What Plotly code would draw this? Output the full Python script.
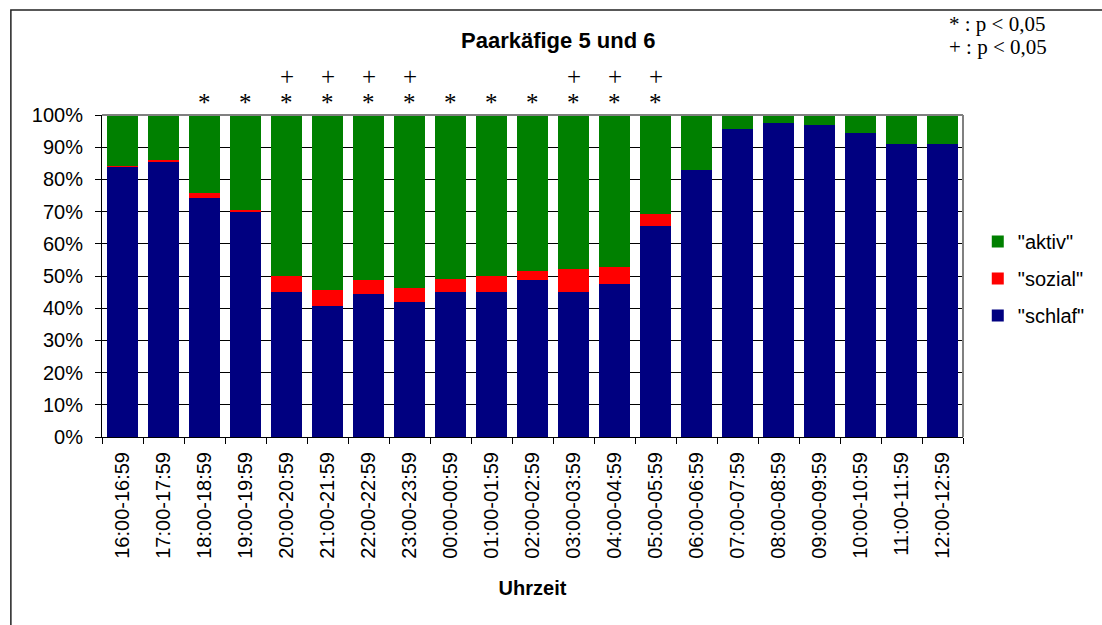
import plotly.graph_objects as go

categories = ["16:00-16:59", "17:00-17:59", "18:00-18:59", "19:00-19:59", "20:00-20:59",
              "21:00-21:59", "22:00-22:59", "23:00-23:59", "00:00-00:59", "01:00-01:59",
              "02:00-02:59", "03:00-03:59", "04:00-04:59", "05:00-05:59", "06:00-06:59",
              "07:00-07:59", "08:00-08:59", "09:00-09:59", "10:00-10:59", "11:00-11:59",
              "12:00-12:59"]
schlaf = [83.9, 85.6, 74.3, 69.9, 45.0, 40.7, 44.4, 41.9, 45.0, 45.0, 48.8,
          45.0, 47.5, 65.5, 82.9, 95.6, 97.4, 96.8, 94.3, 91.0, 91.0]
sozial = [0.4, 0.4, 1.4, 0.6, 5.1, 5.1, 4.5, 4.5, 4.1, 5.1, 2.8,
          7.2, 5.3, 3.8, 0.0, 0.0, 0.0, 0.0, 0.0, 0.0, 0.0]
aktiv = [15.7, 14.0, 24.3, 29.5, 49.9, 54.2, 51.1, 53.6, 50.9, 49.9, 48.4,
         47.8, 47.2, 30.7, 17.1, 4.4, 2.6, 3.2, 5.7, 9.0, 9.0]
star_cats = ["18:00-18:59", "19:00-19:59", "20:00-20:59", "21:00-21:59", "22:00-22:59",
             "23:00-23:59", "00:00-00:59", "01:00-01:59", "02:00-02:59", "03:00-03:59",
             "04:00-04:59", "05:00-05:59"]
plus_cats = ["20:00-20:59", "21:00-21:59", "22:00-22:59", "23:00-23:59",
             "03:00-03:59", "04:00-04:59", "05:00-05:59"]

W, H = 1102, 625
L, R, T, B = 102, 976, 114.7, 437.3
pw, ph = R - L, B - T

def px(x):
    return (x - L) / pw

def py(y):
    return (B - y) / ph

SANS = "Liberation Sans, Arial, sans-serif"
SERIF = "Liberation Serif, Times New Roman, serif"

fig = go.Figure()
fig.add_trace(go.Bar(x=categories, y=schlaf, name='"schlaf"', marker_color="#000080",
                     marker_line_width=0, legendgroup="c", legendrank=3))
fig.add_trace(go.Bar(x=categories, y=sozial, name='"sozial"', marker_color="#FF0000",
                     marker_line_width=0, legendgroup="b", legendrank=2))
fig.add_trace(go.Bar(x=categories, y=aktiv, name='"aktiv"', marker_color="#008000",
                     marker_line_width=0, legendgroup="a", legendrank=1))

annotations = []
for c in star_cats:
    annotations.append(dict(x=c, y=py(102), xref="x", yref="paper", text="*", showarrow=False,
                            font=dict(family=SERIF, size=25, color="black"),
                            xanchor="center", yanchor="middle"))
for c in plus_cats:
    annotations.append(dict(x=c, y=py(76), xref="x", yref="paper", text="+", showarrow=False,
                            font=dict(family=SERIF, size=25, color="black"),
                            xanchor="center", yanchor="middle"))

annotations.append(dict(x=px(565), y=py(40), xref="paper", yref="paper",
                        text="<b>Paarkäfige 5 und 6</b>", showarrow=False,
                        font=dict(family=SANS, size=22, color="black"),
                        xanchor="center", yanchor="middle"))
annotations.append(dict(x=px(960), y=py(24), xref="paper", yref="paper",
                        text="* : p &lt; 0,05", showarrow=False,
                        font=dict(family=SERIF, size=21, color="black"),
                        xanchor="left", yanchor="middle"))
annotations.append(dict(x=px(960), y=py(46.5), xref="paper", yref="paper",
                        text="+ : p &lt; 0,05", showarrow=False,
                        font=dict(family=SERIF, size=21, color="black"),
                        xanchor="left", yanchor="middle"))

shapes = [
    dict(type="rect", xref="paper", yref="paper", x0=px(9.5), y0=py(640), x1=px(1120), y1=py(9.5),
         line=dict(color="#222222", width=1.5), layer="below"),
    dict(type="line", xref="paper", yref="paper", x0=0, y0=1, x1=1, y1=1,
         line=dict(color="#808080", width=2), layer="above"),
    dict(type="line", xref="paper", yref="paper", x0=1, y0=0, x1=1, y1=1,
         line=dict(color="#808080", width=2), layer="above"),
]

fig.update_layout(
    width=W, height=H,
    margin=dict(l=L, r=W - R, t=T, b=H - B, pad=0),
    paper_bgcolor="white", plot_bgcolor="white",
    barmode="stack", bargap=0.23,
    font=dict(family=SANS, size=20, color="black"),
    showlegend=True,
    legend=dict(x=px(991), y=py(222), xanchor="left", yanchor="top",
                traceorder="grouped", tracegroupgap=8,
                font=dict(family=SANS, size=20, color="black"),
                bgcolor="rgba(0,0,0,0)"),
    annotations=annotations,
    shapes=shapes,
    xaxis=dict(type="category", tickangle=-90, showgrid=False,
               showline=True, linecolor="black", linewidth=1,
               ticks="outside", ticklen=6, tickcolor="black", tickson="boundaries",
               ticklabelstandoff=6,
               tickfont=dict(family=SANS, size=20, color="black"),
               title=dict(text="<b>Uhrzeit</b>", font=dict(family=SANS, size=20, color="black"),
                          standoff=23)),
    yaxis=dict(range=[0, 100], dtick=10, ticksuffix="%", showgrid=True,
               gridcolor="black", gridwidth=1, zeroline=False,
               showline=True, linecolor="black", linewidth=1,
               ticks="outside", ticklen=6, tickcolor="black",
               ticklabelstandoff=8,
               tickfont=dict(family=SANS, size=20, color="black")),
)

fig.write_html("out.html", config={"displayModeBar": False},
               post_script="document.body.style.margin='0';")
